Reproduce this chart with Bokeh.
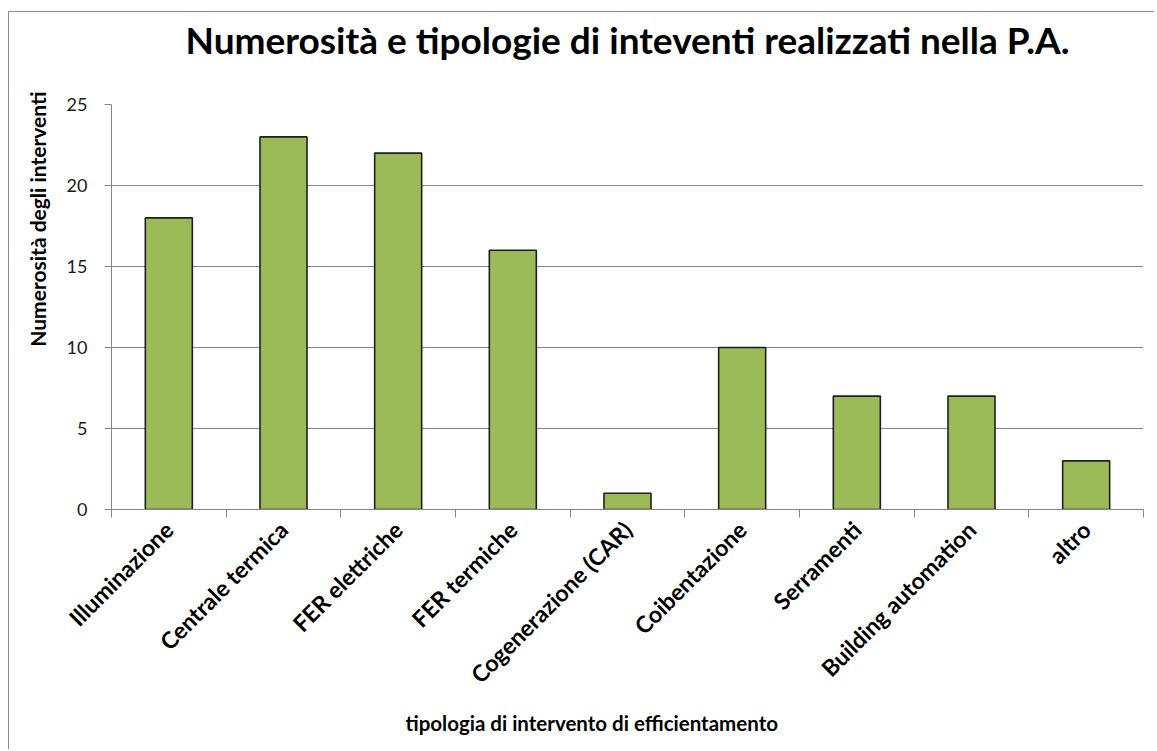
import math
from bokeh.plotting import figure
from bokeh.models import (Range1d, LinearAxis, FixedTicker, Title, ColumnDataSource)
from bokeh.embed import file_html
from bokeh.resources import INLINE

# ---- data ----
categories = ["Illuminazione", "Centrale termica", "FER elettriche", "FER termiche",
              "Cogenerazione (CAR)", "Coibentazione", "Serramenti",
              "Building automation", "altro"]
values = [18, 23, 22, 16, 1, 10, 7, 7, 3]
y_ticks = [0, 5, 10, 15, 20, 25]
title_text = "Numerosità e tipologie di inteventi realizzati nella P.A."
y_title = "Numerosità degli interventi"
x_title = "tipologia di intervento di efficientamento"

FONT = "Lato"
GRID = "#868686"

n = len(categories)
slot = [i + 0.5 for i in range(n)]          # category slot centres on the axis
src = ColumnDataSource(dict(x=slot, top=values, cat=categories))

p = figure(x_range=Range1d(0, n), y_range=Range1d(0, 25),
           width=1146, height=738, title=None,
           output_backend="svg", toolbar_location=None,
           x_axis_location=None,
           min_border_left=102, min_border_right=12,
           min_border_top=92, min_border_bottom=241)
p.styles = {"border-top": "1px solid #8c8c8c", "border-left": "1px solid #8c8c8c",
            "margin-left": "8px", "margin-top": "11px"}
p.outline_line_color = None
p.background_fill_color = "white"
p.border_fill_color = "white"

# bars
p.vbar(x="x", top="top", width=0.41, bottom=0, source=src,
       fill_color="#9BBB59", line_color="#1f1f1f", line_width=1.6)

# y axis
yax = p.yaxis[0]
yax.ticker = FixedTicker(ticks=y_ticks)
yax.minor_tick_line_color = None
yax.major_tick_in = 0
yax.major_tick_out = 7
yax.major_tick_line_color = GRID
yax.axis_line_color = GRID
yax.major_label_text_font = FONT
yax.major_label_text_font_size = "18px"
yax.major_label_text_color = "#1a1a1a"
yax.major_label_standoff = 17

p.xgrid.grid_line_color = None
p.ygrid.grid_line_color = GRID
p.ygrid.ticker = FixedTicker(ticks=y_ticks)

# x tick axis at category boundaries (ticks only)
tick_axis = LinearAxis(ticker=FixedTicker(ticks=list(range(n + 1))),
                       axis_line_color=GRID, major_tick_line_color=GRID,
                       major_tick_in=0, major_tick_out=8,
                       minor_tick_line_color=None,
                       major_label_text_font_size="1px",
                       major_label_text_color=None,
                       major_label_standoff=0)
p.add_layout(tick_axis, "below")

# x category label axis
cat_axis = LinearAxis(ticker=FixedTicker(ticks=slot),
                      major_label_overrides={s: c for s, c in zip(slot, categories)},
                      axis_line_color=None, major_tick_line_color=None,
                      minor_tick_line_color=None,
                      major_tick_in=0, major_tick_out=0,
                      major_label_orientation=math.pi / 4,
                      major_label_text_font=FONT,
                      major_label_text_font_size="23px",
                      major_label_text_font_style="bold",
                      major_label_text_color="#000000",
                      major_label_standoff=8)
p.add_layout(cat_axis, "below")

# x axis title
p.add_layout(Title(text=x_title, text_font=FONT, text_font_size="20.5px",
                   text_font_style="bold", text_color="#000000",
                   align="left", offset=294, standoff=14), "below")

# main title: label of an otherwise invisible axis above the frame
title_axis = LinearAxis(ticker=FixedTicker(ticks=[]),
                        axis_line_color=None, major_tick_line_color=None,
                        minor_tick_line_color=None,
                        major_tick_in=0, major_tick_out=0,
                        major_label_text_font_size="1px",
                        major_label_text_color=None, major_label_standoff=0,
                        axis_label=title_text,
                        axis_label_standoff=43,
                        axis_label_text_font=FONT,
                        axis_label_text_font_size="37px",
                        axis_label_text_font_style="bold",
                        axis_label_text_color="#000000")
p.add_layout(title_axis, "above")

# y axis title
p.add_layout(Title(text=y_title, text_font=FONT, text_font_size="21px",
                   text_font_style="bold", text_color="#000000",
                   align="right", offset=-13, standoff=27), "left")

open("out.html", "w").write(file_html(p, INLINE))
